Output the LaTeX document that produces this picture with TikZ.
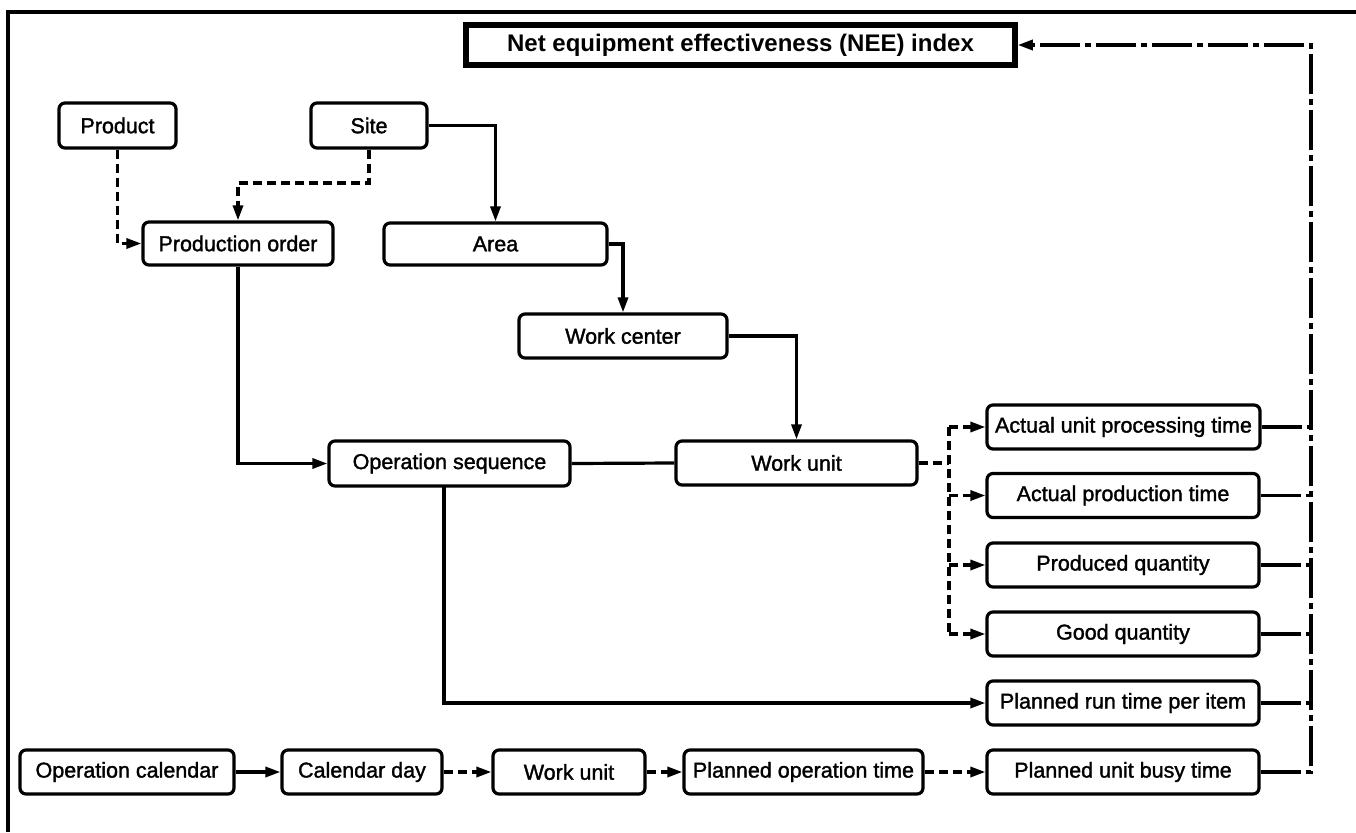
\documentclass[tikz,border=0pt]{standalone}
\usepackage{fontspec}
\setmainfont{Liberation Sans}
\newfontfamily\lblfont{Liberation Sans}[FakeBold=1.5]
\usetikzlibrary{arrows.meta}
\begin{document}
\begin{tikzpicture}[x=1pt,y=-1pt,
  box/.style={draw,line width=3.2pt,rounded corners=6pt,inner sep=0pt,minimum height=44,
    font=\lblfont\fontsize{21.5}{25}\selectfont},
  con/.style={line width=3.2pt},
  arr/.style={-{Triangle[length=15pt,width=10pt]}},
  dsh/.style={con,dash pattern=on 9pt off 5pt},
  dd/.style={con,dash pattern=on 40pt off 5pt on 6pt off 5pt}]
\useasboundingbox (0,0) rectangle (1356,832);
\draw[line width=3.2pt] (8,832) -- (8,12) -- (1356,12);
% title
\node[draw,line width=5.5pt,inner sep=0pt,minimum width=549,minimum height=40,
  font=\bfseries\fontsize{24}{28}\selectfont] (title) at (740.5,45) {Net equipment effectiveness (NEE) index};
% top nodes
\node[box,minimum width=117,minimum height=45] (product) at (117.5,125.5) {Product};
\node[box,minimum width=116,minimum height=45] (site) at (369,125.5) {Site};
\node[box,minimum width=190,minimum height=43] (porder) at (238,243.5) {Production order};
\node[box,minimum width=223,minimum height=42] (area) at (495.5,244) {Area};
\node[box,minimum width=208] (wcenter) at (623,336) {Work center};
\node[box,minimum width=241,minimum height=45] (opseq) at (449.5,463.5) {Operation sequence};
\node[box,minimum width=241] (wunit) at (796.5,463) {Work unit};
% right column
\node[box,minimum width=273] (aupt) at (1123.5,427) {Actual unit processing time};
\node[box,minimum width=272] (apt) at (1123,495.5) {Actual production time};
\node[box,minimum width=272] (pq) at (1123,565) {Produced quantity};
\node[box,minimum width=272] (gq) at (1123,634) {Good quantity};
\node[box,minimum width=272] (prt) at (1123,703) {Planned run time per item};
\node[box,minimum width=272] (pubt) at (1123,772) {Planned unit busy time};
% bottom row
\node[box,minimum width=214] (opcal) at (127,772) {Operation calendar};
\node[box,minimum width=160] (calday) at (362,772) {Calendar day};
\node[box,minimum width=152] (wu2) at (569,772) {Work unit};
\node[box,minimum width=239] (pot) at (803.5,772) {Planned operation time};
% helper coordinates
\coordinate (sitebend) at (369,183);
\coordinate (wb) at (949,463);
\coordinate (rv) at (1311,772);
\coordinate (osd) at (444,486);
% connectors
\draw[dsh,arr] (product.south) |- (porder.west);
\draw[dsh,arr] (site.south) |- (porder.north |- sitebend) -- (porder.north);
\draw[con,arr] (site.east) -| (area.north);
\draw[con,arr] (area.east) -| (wcenter.north);
\draw[con,arr] (wcenter.east) -| (wunit.north);
\draw[con,arr] (porder.south) |- (opseq.west);
\draw[con] (opseq.east) -- (wunit.west);
\draw[con,arr] (osd) |- (prt.west);
\draw[dsh] (wunit.east) -- (wb);
\draw[dsh] (wb |- aupt.west) -- (wb |- gq.west);
\foreach \n in {aupt,apt,pq,gq}{\draw[dsh,arr] (wb |- \n.west) -- (\n.west);}
\draw[con,arr] (opcal) -- (calday);
\draw[dsh,arr] (calday) -- (wu2);
\draw[dsh,arr] (wu2) -- (pot);
\draw[dsh,arr] (pot) -- (pubt);
\foreach \n in {aupt,apt,pq,gq,prt}{\draw[dd] (\n.east) -- (\n.east -| rv);}
\draw[dd,arr] (pubt.east) -| (title.east -| rv) -- (title.east);
\end{tikzpicture}
\end{document}
